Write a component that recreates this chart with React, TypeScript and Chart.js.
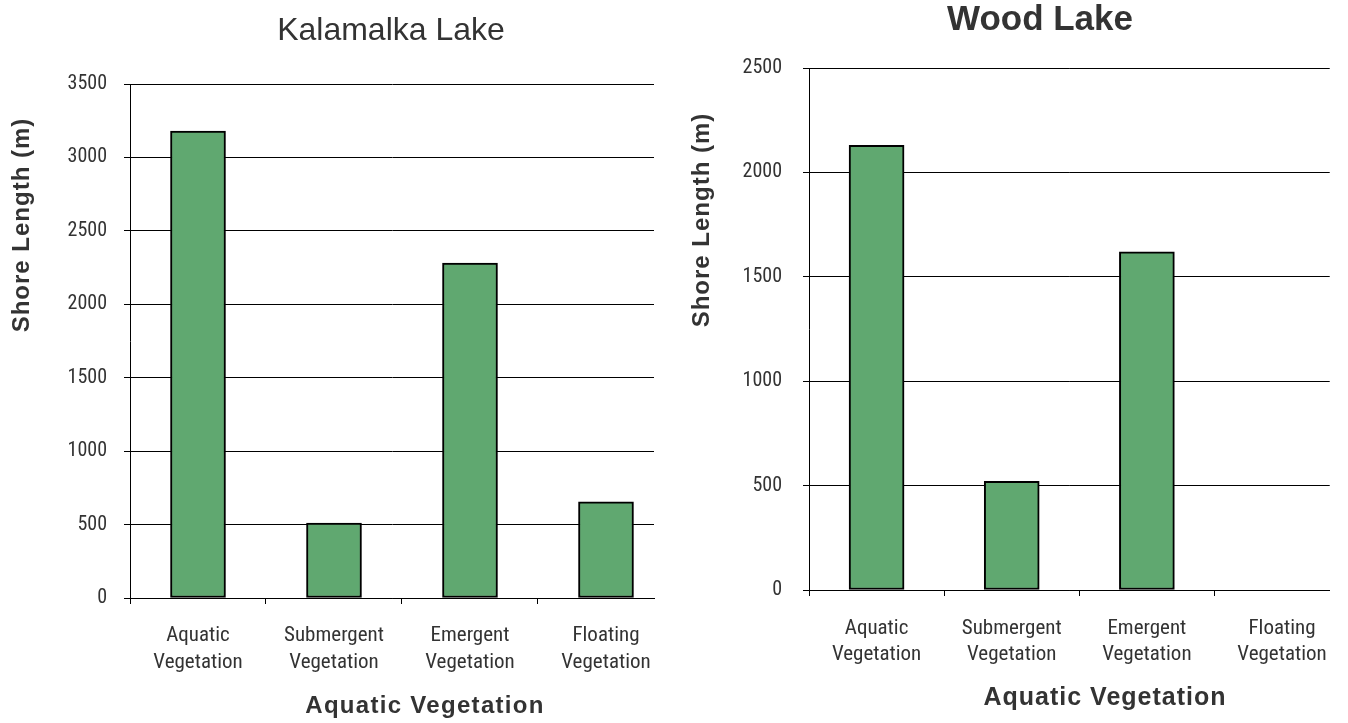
import React, { useEffect, useRef } from "react";
import { Chart, registerables } from "chart.js";

Chart.register(...registerables);

// ---- data ----
const CATEGORIES: string[][] = [
  ["Aquatic", "Vegetation"],
  ["Submergent", "Vegetation"],
  ["Emergent", "Vegetation"],
  ["Floating", "Vegetation"],
];
const KALAMALKA_VALUES: number[] = [3180, 510, 2280, 655];
const WOOD_VALUES: number[] = [2130, 520, 1620, 0];

const KALAMALKA_TITLE = "Kalamalka Lake";
const WOOD_TITLE = "Wood Lake";
const Y_TITLE = "Shore Length (m)";
const X_TITLE = "Aquatic Vegetation";

const KALAMALKA_Y_MAX = 3500;
const WOOD_Y_MAX = 2500;
const Y_STEP = 500;

// ---- style ----
const BAR_COLOR = "#60a870";
const TEXT_COLOR = "#333333";
const NARROW = "'Roboto Condensed', 'Liberation Sans Narrow', 'DejaVu Sans Condensed', sans-serif";
const SANS = "'Liberation Sans', Arial, sans-serif";
const X_VISIBLE_MAX = 3.353; // plot area ends before the last category boundary

type TextItem = {
  text: string;
  x: number;
  y: number;
  font: string;
  rotate?: number;
  spacing?: number;
  baseline?: CanvasTextBaseline;
};

const freeTextPlugin = {
  id: "freeText",
  afterDraw(chart: any, _args: any, opts: any) {
    const items: TextItem[] = (opts && opts.items) || [];
    const ctx: CanvasRenderingContext2D = chart.ctx;
    for (const it of items) {
      ctx.save();
      ctx.font = it.font;
      ctx.fillStyle = TEXT_COLOR;
      ctx.textAlign = "center";
      ctx.textBaseline = it.baseline || "alphabetic";
      (ctx as any).letterSpacing = (it.spacing || 0) + "px";
      ctx.translate(it.x, it.y);
      if (it.rotate) ctx.rotate(it.rotate);
      ctx.fillText(it.text, 0, 0);
      ctx.restore();
    }
  },
};

function makeConfig(p: {
  values: number[];
  yMax: number;
  padding: { left: number; right: number; top: number; bottom: number };
  yWidth: number;
  xHeight: number;
  yTickPadding: number;
  xTickPadding: number;
  xLineHeight: number;
  texts: TextItem[];
}): any {
  return {
    type: "bar",
    data: {
      datasets: [
        {
          data: p.values.map((v, i) => ({ x: i, y: v })),
          backgroundColor: BAR_COLOR,
          borderColor: "#000000",
          borderWidth: 2,
          borderSkipped: false,
          barThickness: 55,
        },
      ],
    },
    plugins: [freeTextPlugin],
    options: {
      responsive: false,
      animation: false,
      devicePixelRatio: 1,
      layout: { padding: p.padding },
      plugins: {
        legend: { display: false },
        tooltip: { enabled: false },
        title: { display: false },
        freeText: { items: p.texts },
      },
      scales: {
        x: {
          type: "linear",
          min: -0.5,
          max: X_VISIBLE_MAX,
          bounds: "data",
          offset: false,
          afterBuildTicks: (scale: any) => {
            scale.ticks = CATEGORIES.map((_, i) => ({ value: i }));
          },
          afterFit: (scale: any) => {
            scale.height = p.xHeight;
          },
          ticks: {
            autoSkip: false,
            maxRotation: 0,
            minRotation: 0,
            padding: p.xTickPadding,
            color: TEXT_COLOR,
            font: { family: NARROW, size: 21, lineHeight: p.xLineHeight / 21 },
            callback: (value: any) => CATEGORIES[Math.round(Number(value))] || "",
          },
          grid: {
            offset: true,
            drawOnChartArea: false,
            drawTicks: true,
            tickLength: 6,
            color: "#000000",
            lineWidth: 1,
          },
          border: { display: true, color: "#000000", width: 1 },
        },
        y: {
          type: "linear",
          min: 0,
          max: p.yMax,
          afterFit: (scale: any) => {
            scale.width = p.yWidth;
          },
          ticks: {
            stepSize: Y_STEP,
            padding: p.yTickPadding,
            color: TEXT_COLOR,
            font: { family: NARROW, size: 20 },
            callback: (value: any) => String(value),
          },
          grid: {
            color: "#000000",
            lineWidth: 1,
            drawTicks: true,
            tickLength: 6,
          },
          border: { display: true, color: "#000000", width: 1 },
        },
      },
    },
  };
}

export default function App() {
  const leftRef = useRef<HTMLCanvasElement | null>(null);
  const rightRef = useRef<HTMLCanvasElement | null>(null);

  useEffect(() => {
    const left = new Chart(
      leftRef.current as HTMLCanvasElement,
      makeConfig({
        values: KALAMALKA_VALUES,
        yMax: KALAMALKA_Y_MAX,
        padding: { left: 0, right: 694, top: 84, bottom: 0 },
        yWidth: 130,
        xHeight: 125,
        yTickPadding: 17,
        xTickPadding: 18,
        xLineHeight: 27,
        texts: [
          { text: KALAMALKA_TITLE, x: 391, y: 40, font: `32px ${SANS}` },
          { text: Y_TITLE, x: 22.5, y: 225, font: `bold 24px ${SANS}`, rotate: -Math.PI / 2, spacing: 1, baseline: "middle" },
          { text: X_TITLE, x: 425, y: 713, font: `bold 24px ${SANS}`, spacing: 1.3 },
        ],
      })
    );
    const right = new Chart(
      rightRef.current as HTMLCanvasElement,
      makeConfig({
        values: WOOD_VALUES,
        yMax: WOOD_Y_MAX,
        padding: { left: 676, right: 14, top: 68, bottom: 0 },
        yWidth: 133,
        xHeight: 133,
        yTickPadding: 21,
        xTickPadding: 20,
        xLineHeight: 26,
        texts: [
          { text: WOOD_TITLE, x: 1040, y: 30, font: `bold 35px ${SANS}` },
          { text: Y_TITLE, x: 702.5, y: 220, font: `bold 24px ${SANS}`, rotate: -Math.PI / 2, spacing: 1, baseline: "middle" },
          { text: X_TITLE, x: 1105, y: 705, font: `bold 25px ${SANS}`, spacing: 1 },
        ],
      })
    );
    return () => {
      left.destroy();
      right.destroy();
    };
  }, []);

  return (
    <div
      style={{
        position: "absolute",
        left: 0,
        top: 0,
        width: 1348,
        height: 723,
        overflow: "hidden",
        background: "#ffffff",
      }}
    >
      <canvas ref={leftRef} width={1348} height={723} style={{ position: "absolute", left: 0, top: 0 }} />
      <canvas ref={rightRef} width={1348} height={723} style={{ position: "absolute", left: 0, top: 0 }} />
    </div>
  );
}
